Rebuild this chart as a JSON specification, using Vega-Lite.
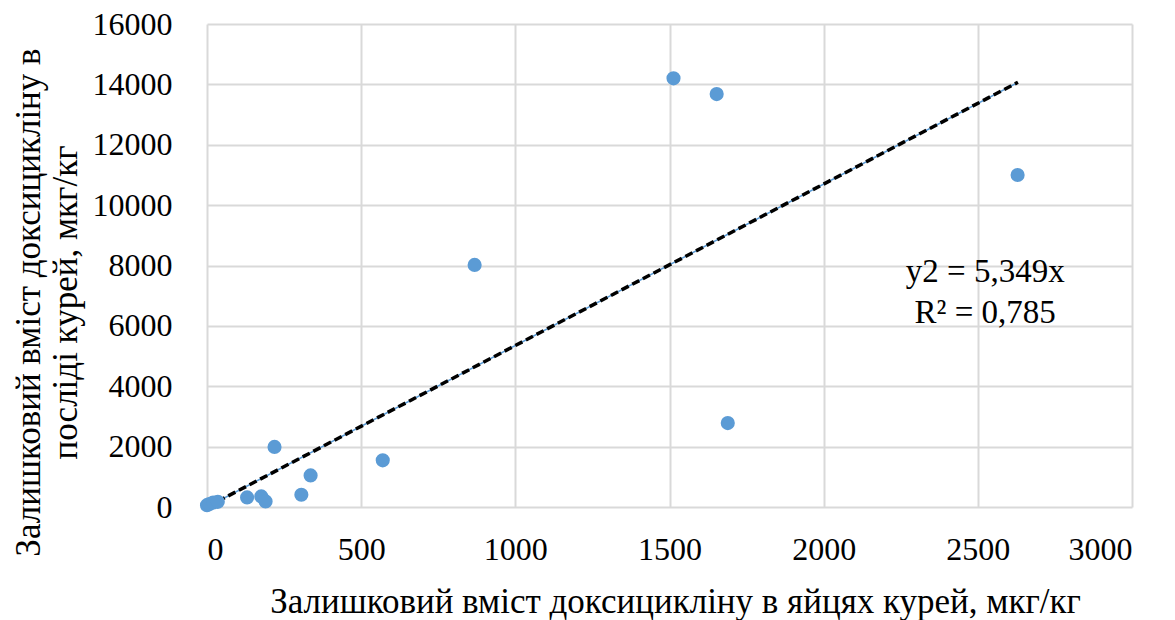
{
  "$schema": "https://vega.github.io/schema/vega-lite/v6.json",
  "autosize": "none",
  "width": 925,
  "height": 483,
  "padding": {"left": 207, "top": 24, "right": 43, "bottom": 113},
  "background": "white",
  "config": {
    "view": {"stroke": null},
    "font": "'Liberation Serif', 'Times New Roman', serif",
    "style": {
      "guide-label": {"font": "'Liberation Serif', 'Times New Roman', serif", "fontSize": 32, "fill": "#000000"},
      "guide-title": {"font": "'Liberation Serif', 'Times New Roman', serif", "fontSize": 35, "fontWeight": "normal", "fill": "#000000"}
    },
    "axis": {
      "domain": false,
      "ticks": false,
      "grid": true,
      "gridColor": "#D9D9D9",
      "gridWidth": 2,
      "labelFont": "'Liberation Serif', 'Times New Roman', serif",
      "labelFontSize": 32,
      "labelColor": "#000000",
      "titleFont": "'Liberation Serif', 'Times New Roman', serif",
      "titleFontSize": 35,
      "titleFontWeight": "normal",
      "titleColor": "#000000"
    }
  },
  "datasets": {
    "points": [
      {"egg": 0, "litter": 60},
      {"egg": 8, "litter": 100},
      {"egg": 20, "litter": 150},
      {"egg": 35, "litter": 170},
      {"egg": 130, "litter": 318},
      {"egg": 176, "litter": 351},
      {"egg": 190, "litter": 185},
      {"egg": 219, "litter": 1990},
      {"egg": 306, "litter": 407},
      {"egg": 336, "litter": 1046},
      {"egg": 570, "litter": 1545},
      {"egg": 868, "litter": 8019},
      {"egg": 1513, "litter": 14199},
      {"egg": 1653, "litter": 13679},
      {"egg": 1689, "litter": 2780},
      {"egg": 2629, "litter": 10998}
    ],
    "trend": [
      {"egg": 0, "litter": 0},
      {"egg": 2630, "litter": 14068}
    ],
    "label": [
      {"egg": 2524, "litter": 7457, "text": "y2 = 5,349x"},
      {"egg": 2524, "litter": 6100, "text": "R² = 0,785"}
    ]
  },
  "encoding": {
    "x": {
      "field": "egg",
      "type": "quantitative",
      "scale": {"domain": [0, 3000], "nice": false, "zero": true},
      "axis": {
        "values": [0, 500, 1000, 1500, 2000, 2500, 3000],
        "format": "d",
        "labelPadding": 27,
        "title": "Залишковий вміст доксицикліну в яйцях курей, мкг/кг",
        "titleX": 468,
        "titleY": 105,
        "titleAlign": "center",
        "titleBaseline": "alphabetic"
      }
    },
    "y": {
      "field": "litter",
      "type": "quantitative",
      "scale": {"domain": [0, 16000], "nice": false},
      "axis": {
        "values": [0, 2000, 4000, 6000, 8000, 10000, 12000, 14000, 16000],
        "format": "d",
        "labelPadding": 35,
        "labelBaseline": "middle",
        "title": ["Залишковий вміст доксицикліну в", "посліді курей, мкг/кг"],
        "titleLineHeight": 37,
        "titleAngle": -90,
        "titleX": -168,
        "titleY": 278,
        "titleAlign": "center",
        "titleBaseline": "alphabetic"
      }
    }
  },
  "layer": [
    {
      "data": {"name": "trend"},
      "mark": {"type": "line", "color": "#5B9BD5", "strokeWidth": 1.5},
      "encoding": {}
    },
    {
      "data": {"name": "trend"},
      "mark": {"type": "line", "color": "#000000", "strokeWidth": 3.5, "strokeDash": [8, 4]},
      "encoding": {}
    },
    {
      "data": {"name": "points"},
      "mark": {"type": "circle", "color": "#5B9BD5", "opacity": 1, "size": 200},
      "encoding": {}
    },
    {
      "data": {"name": "label"},
      "mark": {"type": "text", "font": "'Liberation Serif', 'Times New Roman', serif", "fontSize": 33, "color": "#000000", "align": "center", "baseline": "alphabetic"},
      "encoding": {"text": {"field": "text"}}
    }
  ]
}
